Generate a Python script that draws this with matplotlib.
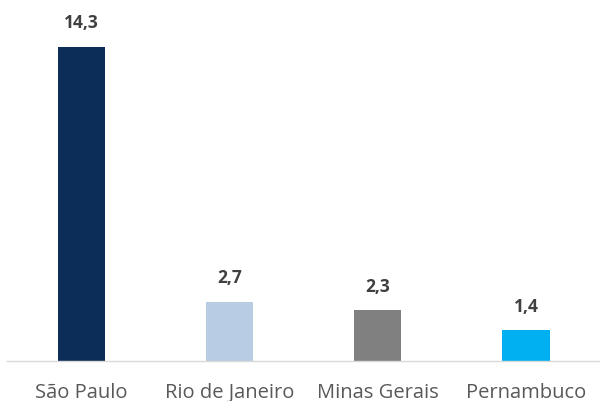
import matplotlib.pyplot as plt

estados = ['São Paulo', 'Rio de Janeiro', 'Minas Gerais', 'Pernambuco']
valores = [14.3, 2.7, 2.3, 1.4]
cores = ['#0B2D57', '#B8CCE4', '#808080', '#00B0F0']

plt.rcParams['font.family'] = ['Open Sans', 'DejaVu Sans']

fig = plt.figure(figsize=(6, 4.02), dpi=100)
ax = fig.add_axes([0.012, 0.0995, 0.988, 0.876])

x = range(len(estados))
bars = ax.bar(x, valores, width=0.32, color=cores)
for b, v in zip(bars, valores):
    ax.text(b.get_x() + b.get_width() / 2, v + 0.7, f'{v:.1f}'.replace('.', ','),
            ha='center', va='bottom', fontsize=12.5, fontweight='bold', color='#404040')

ax.set_xlim(-0.5, len(estados) - 0.5)
ax.set_ylim(0, 16.03)
ax.set_xticks(list(x))
ax.set_xticklabels(estados, fontsize=14.5, color='#595959')
ax.tick_params(axis='x', length=0, pad=15)
ax.set_yticks([])
for s in ['top', 'right', 'left']:
    ax.spines[s].set_visible(False)
ax.spines['bottom'].set_color('#D9D9D9')
ax.spines['bottom'].set_linewidth(1)

fig.savefig('out.png', dpi=100)
